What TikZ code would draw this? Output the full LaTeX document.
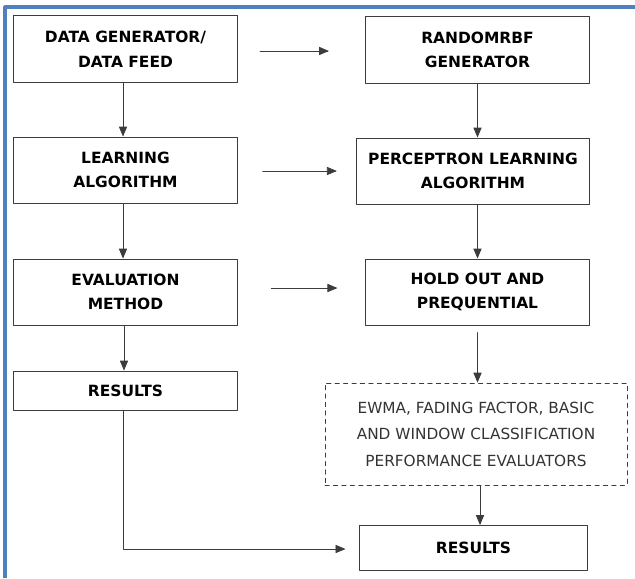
\documentclass[tikz,border=0pt]{standalone}
\usepackage{fontspec}
\setmainfont{DejaVu Sans}
\usetikzlibrary{arrows}
\definecolor{framblue}{RGB}{79,129,189}
\definecolor{linegray}{RGB}{60,60,60}
\tikzset{
  stage/.style={draw=linegray, line width=0.7pt, align=center, font=\bfseries\fontsize{11}{17.5}\selectfont,
    minimum width=5.575cm, minimum height=1.65cm, inner sep=0pt},
  evalbox/.style={draw=linegray, dashed, line width=0.6pt, align=center, font=\fontsize{10.9}{18.8}\selectfont,
    text=black!80, minimum width=7.55cm, minimum height=2.55cm, inner sep=0pt},
  flow/.style={->, draw=linegray, line width=0.6pt}
}

\begin{document}
\begin{tikzpicture}[line cap=round,line join=round,>=triangle 45,x=0.025cm,y=-0.025cm]
			\useasboundingbox (0,0) rectangle (635,578);
			%cadre bleu
			\draw [framblue, line width=2.2pt, line cap=butt] (635,7) -- (5,7) -- (5,578);
			%colonne gauche
			\node[stage] (gen) at (125.5,49) {DATA GENERATOR/\\DATA FEED};
			\node[stage] (learn) at (125.5,170) {LEARNING\\ALGORITHM};
			\node[stage] (evalm) at (125.5,292) {EVALUATION\\METHOD};
			\node[stage, minimum height=0.975cm] (resl) at (125.5,390.5) {RESULTS};
			%colonne droite
			\node[stage] (rbf) at (477.5,50) {RANDOMRBF\\GENERATOR};
			\node[stage, minimum width=5.8cm] (perc) at (473,171) {PERCEPTRON LEARNING\\ALGORITHM};
			\node[stage] (hold) at (477.5,292) {HOLD OUT AND\\PREQUENTIAL};
			\node[evalbox] (evals) at (476,434) {EWMA, FADING FACTOR, BASIC\\AND WINDOW CLASSIFICATION\\PERFORMANCE EVALUATORS};
			\node[stage, minimum width=5.675cm, minimum height=1.125cm] (resr) at (473.5,548) {RESULTS};
			%fleches verticales
			\draw [flow] (gen.south -| 123,0) -- (learn.north -| 123,0);
			\draw [flow] (learn.south -| 123,0) -- (evalm.north -| 123,0);
			\draw [flow] (evalm.south -| 124,0) -- (resl.north -| 124,0);
			\draw [flow] (rbf.south) -- (perc.north -| rbf.south);
			\draw [flow] (perc.south -| rbf.south) -- (hold.north);
			\draw [flow] ([yshift=-5]hold.south) -- (evals.north -| hold.south);
			\draw [flow] (evals.south -| 480,0) -- (resr.north -| 480,0);
			%fleches horizontales
			\draw [flow] ([xshift=16]gen.east |- 0,51) -- ([xshift=-26]rbf.west |- 0,51);
			\draw [flow] ([xshift=18]learn.east |- 0,171) -- ([xshift=-14]perc.west |- 0,171);
			\draw [flow] ([xshift=24]evalm.east |- 0,288) -- ([xshift=-20]hold.west |- 0,288);
			\draw [flow] (resl.south -| 123,0) -- (123,549) -- ([xshift=-10]resr.west |- 0,549);
\end{tikzpicture}
\end{document}
